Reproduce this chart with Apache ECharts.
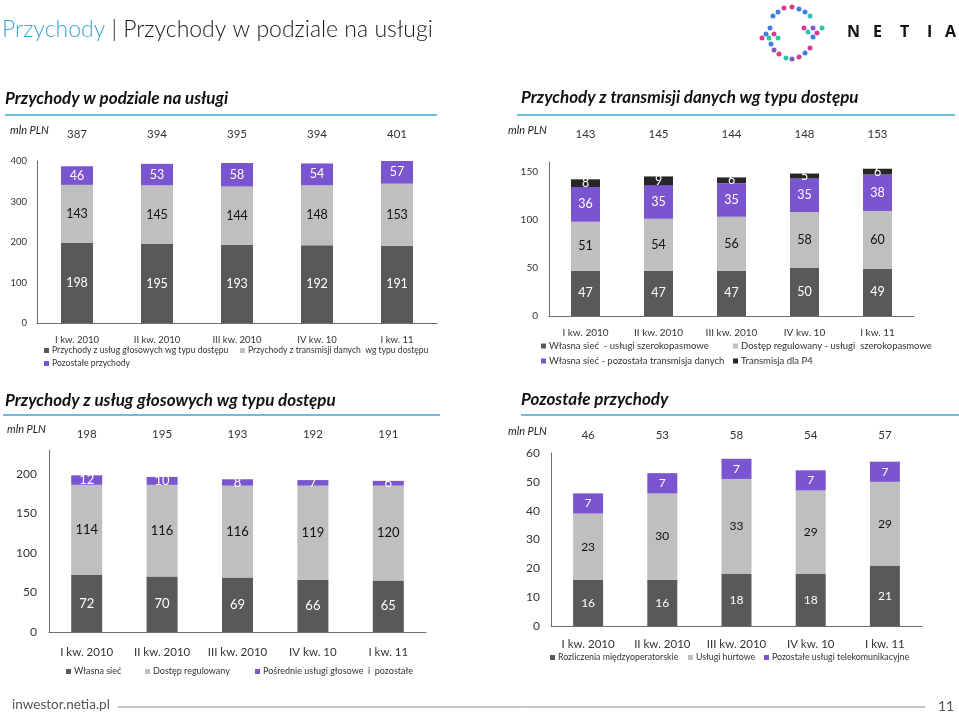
<!DOCTYPE html>
<html><head><meta charset="utf-8">
<script src="https://cdn.jsdelivr.net/npm/echarts@6/dist/echarts.min.js"></script>
<style>html,body{margin:0;padding:0;background:#fff}#c{width:959px;height:714px}</style>
</head><body><div id="c"></div>
<script>
const categories = ["I kw. 2010","II kw. 2010","III kw. 2010","IV kw. 10","I kw. 11"];

// Chart 1: Przychody w podziale na usługi
const c1Totals = [387,394,395,394,401];
const c1Voice = [198,195,193,192,191];
const c1Data = [143,145,144,148,153];
const c1Other = [46,53,58,54,57];
const c1Names = ["Przychody z usług głosowych wg typu dostępu","Przychody z transmisji danych  wg typu dostępu","Pozostałe przychody"];

// Chart 2: Przychody z transmisji danych wg typu dostępu
const c2Totals = [143,145,144,148,153];
const c2OwnBroadband = [47,47,47,50,49];
const c2Regulated = [51,54,56,58,60];
const c2OwnOther = [36,35,35,35,38];
const c2P4 = [8,9,6,5,6];
const c2Names = ["Własna sieć  - usługi szerokopasmowe","Dostęp regulowany - usługi  szerokopasmowe","Własna sieć - pozostała transmisja danych","Transmisja dla P4"];

// Chart 3: Przychody z usług głosowych wg typu dostępu
const c3Totals = [198,195,193,192,191];
const c3Own = [72,70,69,66,65];
const c3Regulated = [114,116,116,119,120];
const c3Indirect = [12,10,8,7,6];
const c3Names = ["Własna sieć","Dostęp regulowany","Pośrednie usługi głosowe  i  pozostałe"];

// Chart 4: Pozostałe przychody
const c4Totals = [46,53,58,54,57];
const c4Interconnect = [16,16,18,18,21];
const c4Wholesale = [23,30,33,29,29];
const c4OtherTelecom = [7,7,7,7,7];
const c4Names = ["Rozliczenia międzyoperatorskie","Usługi hurtowe","Pozostałe usługi telekomunikacyjne"];

const DARK = "#595959", LIGHT = "#bfbfbf", PURPLE = "#7b55cf", BLACK = "#262626", BLUE = "#3ea6d6";
const FONT = "Lato";

const grids = [
  {left:37, top:161, width:400, height:162},
  {left:549, top:162, width:365, height:154},
  {left:49, top:450, width:377, height:182},
  {left:551, top:453, width:371, height:173}
];
const yCfg = [
  {max:400, interval:100, fs:9.5, margin:10},
  {max:160, interval:50, fs:10, margin:11},
  {max:230, interval:50, fs:12, margin:12},
  {max:60, interval:10, fs:12, margin:11}
];
const catFs = [9.5, 10, 11.5, 11.5];
const catMargin = [12, 12, 14, 12];
const totalsArr = [c1Totals, c2Totals, c3Totals, c4Totals];
const totalsOffset = [21, 22, 10, 12];
const barW = [32, 29, 31, 30];

const xAxis = [], yAxis = [];
grids.forEach((g, i) => {
  xAxis.push({type:'category', gridIndex:i, data:categories,
    axisLine:{show:true, lineStyle:{color:'#6e6e6e', width:1}}, axisTick:{show:false},
    axisLabel:{interval:0, fontSize:catFs[i], color:'#333', fontFamily:FONT, margin:catMargin[i]}});
  yAxis.push({type:'value', gridIndex:i, min:0, max:yCfg[i].max, interval:yCfg[i].interval,
    axisLine:{show:true, lineStyle:{color:'#6e6e6e', width:1}}, axisTick:{show:false}, splitLine:{show:false},
    axisLabel:{fontSize:yCfg[i].fs, color:'#333', fontFamily:FONT, margin:yCfg[i].margin, showMaxLabel: (i===0||i===3)}});
});
grids.forEach((g, i) => {
  xAxis.push({type:'category', gridIndex:i, position:'top', offset:totalsOffset[i], data:totalsArr[i].map(String),
    axisLine:{show:false}, axisTick:{show:false},
    axisLabel:{interval:0, fontSize:11.5, color:'#333', fontFamily:FONT, margin:0}});
});

function bar(gi, name, data, color, labelColor, fs) {
  return {type:'bar', name:name, xAxisIndex:gi, yAxisIndex:gi, stack:'s'+gi, data:data,
    barWidth:barW[gi], itemStyle:{color:color},
    label:{show:true, position:'inside', color:labelColor, fontSize:fs, fontFamily:FONT}};
}
const series = [
  bar(0, c1Names[0], c1Voice, DARK, '#fff', 12.5),
  bar(0, c1Names[1], c1Data, LIGHT, '#111', 12.5),
  bar(0, c1Names[2], c1Other, PURPLE, '#fff', 12.5),
  bar(1, c2Names[0], c2OwnBroadband, DARK, '#fff', 12.5),
  bar(1, c2Names[1], c2Regulated, LIGHT, '#111', 12.5),
  bar(1, c2Names[2], c2OwnOther, PURPLE, '#fff', 12.5),
  bar(1, c2Names[3], c2P4, BLACK, '#fff', 12.5),
  bar(2, c3Names[0], c3Own, DARK, '#fff', 13),
  bar(2, c3Names[1], c3Regulated, LIGHT, '#111', 13),
  bar(2, c3Names[2], c3Indirect, PURPLE, '#fff', 13),
  bar(3, c4Names[0], c4Interconnect, DARK, '#fff', 12),
  bar(3, c4Names[1], c4Wholesale, LIGHT, '#111', 12),
  bar(3, c4Names[2], c4OtherTelecom, PURPLE, '#fff', 12)
];

function leg(name, left, top, fs) {
  return {data:[name], left:left, top:top, icon:'rect', itemWidth:5, itemHeight:5, itemGap:0,
    selectedMode:false, padding:0, textStyle:{fontSize:fs, color:'#333', fontFamily:FONT, padding:[0,0,0,-2]}};
}
const legend = [
  leg(c1Names[0], 44, 346, 8.6), leg(c1Names[1], 240, 346, 8.6), leg(c1Names[2], 44, 359, 8.6),
  leg(c2Names[0], 541, 341, 9.5), leg(c2Names[1], 733, 341, 9.5), leg(c2Names[2], 541, 356, 9.5), leg(c2Names[3], 733, 356, 9.5),
  leg(c3Names[0], 66, 667, 9), leg(c3Names[1], 145, 667, 9), leg(c3Names[2], 255, 667, 9),
  leg(c4Names[0], 550, 653, 8.8), leg(c4Names[1], 688, 653, 8.8), leg(c4Names[2], 764, 653, 8.8)
];

// decorative elements
const graphic = [];
graphic.push({type:'text', left:2, top:18, style:{
  text:'{a|Przychody}{b| | Przychody w podziale na usługi}',
  rich:{a:{fontSize:23, fill:BLUE, fontFamily:FONT, fontWeight:300}, b:{fontSize:23, fill:'#1a1a1a', fontFamily:FONT, fontWeight:300}}}});
function title(t, x, y) {
  graphic.push({type:'text', left:x, top:y, style:{text:t, fontSize:17, fontWeight:'bold', fontStyle:'italic', fill:'#111', fontFamily:FONT}});
}
title('Przychody w podziale na usługi', 5, 90);
title('Przychody z transmisji danych wg typu dostępu', 521, 89);
title('Przychody z usług głosowych wg typu dostępu', 5, 392);
title('Pozostałe przychody', 521, 391);
function hline(x1, x2, y, color, w) {
  graphic.push({type:'line', shape:{x1:x1, y1:y, x2:x2, y2:y}, style:{stroke:color, lineWidth:w}});
}
hline(5, 437, 115, BLUE, 1.5);
hline(517, 955, 115, BLUE, 1.5);
hline(3, 440, 415, BLUE, 1.5);
hline(521, 959, 415, BLUE, 1.5);
function mln(x, y) {
  graphic.push({type:'text', left:x, top:y-7, style:{text:'mln PLN', fontSize:11, fontStyle:'italic', fill:'#222', fontFamily:FONT}});
}
mln(10, 132); mln(508, 132); mln(7, 431); mln(508, 433);
// footer
graphic.push({type:'text', left:12, top:698, style:{text:'inwestor.netia.pl', fontSize:13.5, fill:'#555', fontFamily:FONT}});
hline(118, 925, 707, '#8a8a8a', 1);
graphic.push({type:'text', left:938, top:699, style:{text:'11', fontSize:14, fill:'#555', fontFamily:FONT}});
// logo
const M='#d93a93', B='#3f7fdc', T='#2ec4aa', P='#7a5cc8';
const dots = [[773,16,B],[778,12,B],[784,8,M],[792,7,M],[799,9,B],[805,12,B],[810,16,T],
  [804,28,M],[813,28,P],[822,28,T],[808,32,T],[817,33,M],[813,37,B],
  [770,28,B],[766,34,B],[774,34,M],[762,38,M],[769,38,T],[778,38,T],[771,44,B],
  [774,50,P],[779,54,M],[786,58,T],[792,59,P],[799,57,M],[805,53,B],[810,48,M]];
dots.forEach(d => graphic.push({type:'circle', shape:{cx:d[0], cy:d[1], r:2.5}, style:{fill:d[2]}}));
['N','E','T','I','A'].forEach((ch, k) => {
  const xs = [847, 873, 900, 927, 945];
  graphic.push({type:'text', left:xs[k], top:24, style:{text:ch, fontSize:16, fontWeight:'bold', fill:'#111', fontFamily:'Open Sans'}});
});

const chart = echarts.init(document.getElementById('c'), null, {renderer:'canvas'});
chart.setOption({animation:false, backgroundColor:'#fff', grid:grids, xAxis:xAxis, yAxis:yAxis, series:series, legend:legend, graphic:graphic});
</script></body></html>
